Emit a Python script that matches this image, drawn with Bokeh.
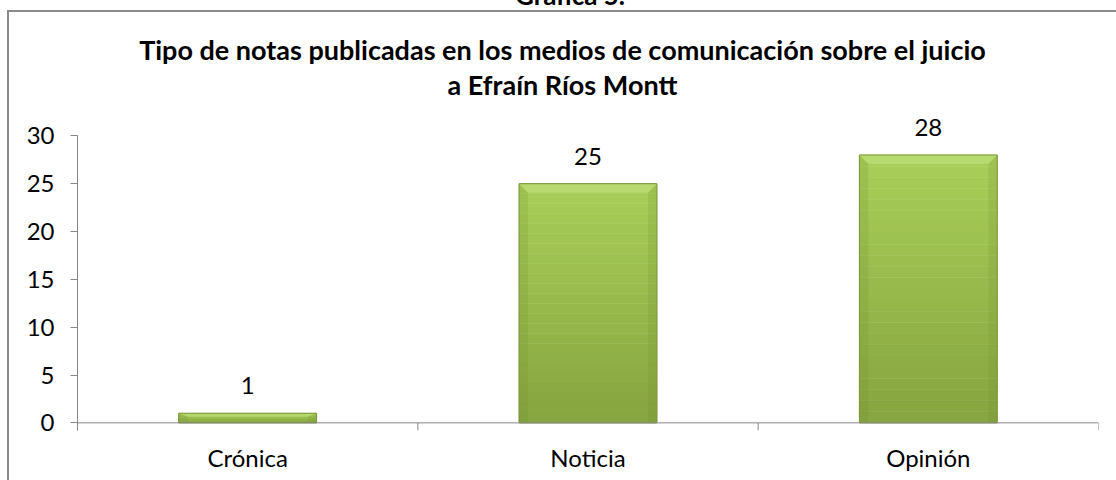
from bokeh.plotting import figure
from bokeh.models import (ColumnDataSource, LabelSet, FixedTicker, Range1d, Span, Div,
                          GlobalInlineStyleSheet, InlineStyleSheet)
from bokeh.layouts import column
from bokeh.core.properties import value
from bokeh.embed import file_html
from bokeh.resources import INLINE

# ---- data ----
categories = ["Crónica", "Noticia", "Opinión"]
counts = [1, 25, 28]
y_ticks = [0, 5, 10, 15, 20, 25, 30]
title_lines = ["Tipo de notas publicadas en los medios de comunicación sobre el juicio",
               "a Efraín Ríos Montt"]
caption = "Gráfica 5."

FONT = "Lato"
AXIS_GRAY = "#868686"
BOX_GRAY = "#8a8a8a"
n = len(categories)
centers = [i + 0.5 for i in range(n)]
bar_w = 0.405

p = figure(width=1107, height=370, x_range=Range1d(0, n), y_range=Range1d(-0.8, 32.65),
           output_backend="svg", toolbar_location=None,
           min_border_left=68, min_border_right=18, min_border_top=0, min_border_bottom=50)
p.outline_line_color = None
p.xgrid.visible = False
p.ygrid.visible = False
p.margin = (0, 0, 0, 0)

# y axis
p.yaxis.ticker = FixedTicker(ticks=y_ticks)
p.yaxis.bounds = (-0.8, 30)
p.yaxis.minor_tick_line_color = None
p.yaxis.major_tick_in = 0
p.yaxis.major_tick_out = 7
p.yaxis.axis_line_color = AXIS_GRAY
p.yaxis.major_tick_line_color = AXIS_GRAY
p.yaxis.major_label_text_font = FONT
p.yaxis.major_label_text_font_size = "24px"
p.yaxis.major_label_text_color = "black"
p.yaxis.major_label_standoff = 16

# x axis (labels at category centres)
p.xaxis.ticker = FixedTicker(ticks=centers)
p.xaxis.major_label_overrides = {c: cat for c, cat in zip(centers, categories)}
p.xaxis.axis_line_color = None
p.xaxis.major_tick_line_color = None
p.xaxis.minor_tick_line_color = None
p.xaxis.major_label_text_font = FONT
p.xaxis.major_label_text_font_size = "24px"
p.xaxis.major_label_text_color = "black"
p.xaxis.major_label_standoff = 6

# baseline and category boundary ticks
p.add_layout(Span(location=0, dimension="width", line_color=AXIS_GRAY, line_width=1))
bounds = list(range(n + 1))
p.segment(x0=bounds, y0=[0] * len(bounds), x1=bounds, y1=[-0.8] * len(bounds),
          line_color=AXIS_GRAY, line_width=1)

# bars with vertical gradient
def mix(c1, c2, t):
    a = [int(c1[i:i + 2], 16) for i in (1, 3, 5)]
    b = [int(c2[i:i + 2], 16) for i in (1, 3, 5)]
    return "#%02x%02x%02x" % tuple(round(a[j] + (b[j] - a[j]) * t) for j in range(3))

BOTTOM_C = "#86a43f"
TOP_C = "#a9cf59"
N = 24
L, R, B, T, C = [], [], [], [], []
for c, v in zip(centers, counts):
    for k in range(N):
        L.append(c - bar_w / 2)
        R.append(c + bar_w / 2)
        B.append(v * k / N)
        T.append(v * (k + 1) / N)
        C.append(mix(BOTTOM_C, TOP_C, (k + 0.5) / N))
p.quad(left=L, right=R, bottom=B, top=T, fill_color=C, line_color=C, line_width=0.5)

# bevel facets
dx = 0.026
top_xs, top_ys, side_xs, side_ys = [], [], [], []
for c, v in zip(centers, counts):
    l, r = c - bar_w / 2, c + bar_w / 2
    dy = min(0.95, v * 0.35)
    top_xs.append([l, r, r - dx, l + dx])
    top_ys.append([v, v, v - dy, v - dy])
    side_xs.append([l, l, l + dx, l + dx])
    side_ys.append([0, v, v - dy, 0])
    side_xs.append([r, r, r - dx, r - dx])
    side_ys.append([0, v, v - dy, 0])
p.patches(xs=top_xs, ys=top_ys, fill_color="#c4e283", fill_alpha=0.55, line_color=None)
p.patches(xs=side_xs, ys=side_ys, fill_color="#6f8a2e", fill_alpha=0.18, line_color=None)

src = ColumnDataSource(dict(x=centers, top=counts, label=[str(v) for v in counts],
                            left=[c - bar_w / 2 for c in centers],
                            right=[c + bar_w / 2 for c in centers]))
p.quad(left="left", right="right", bottom=0, top="top", source=src,
       fill_color=None, line_color="#7a953a", line_width=1)

p.add_layout(LabelSet(x="x", y="top", text="label", source=src, text_align="center",
                      text_baseline="alphabetic", y_offset=19, text_font=value(FONT),
                      text_font_size=value("24px"), text_color="black"))

# chart title (two centred lines) inside the chart box
title_div = Div(text=('<div style="font-family:Lato;font-weight:bold;font-size:27px;'
                      'line-height:35px;text-align:center;white-space:nowrap;width:1107px;'
                      'box-sizing:border-box;padding-top:20px;margin:0;color:black">'
                      + title_lines[0] + '<br>' + title_lines[1] + '</div>'),
                width=1107, height=98, margin=(0, 0, 0, 0))

NO_SCROLL = ":host { overflow: hidden; scrollbar-width: none; }"
box = column(title_div, p, spacing=0, margin=(0, 0, 0, 7))
box.stylesheets = [InlineStyleSheet(css=NO_SCROLL + " :host { border-left: 2px solid %s; border-top: 2px solid %s; }"
                                    % (BOX_GRAY, BOX_GRAY))]

# caption above the chart box (cut by the page top)
cap = Div(text=('<div style="font-family:Lato;font-weight:bold;font-size:26px;'
                'line-height:26px;text-align:center;white-space:nowrap;width:1116px;'
                'box-sizing:border-box;margin-top:-28px;transform:translateY(-7px);'
                'padding-left:24px;color:black">' + caption + '</div>'),
          width=1116, height=10, margin=(0, 0, 0, 0), styles={"overflow": "hidden"})

root = column(cap, box, spacing=0)
root.stylesheets = [InlineStyleSheet(css=NO_SCROLL),
                    GlobalInlineStyleSheet(css="html, body { margin: 0; overflow: hidden; scrollbar-width: none; }")]
open("out.html", "w").write(file_html(root, INLINE))
